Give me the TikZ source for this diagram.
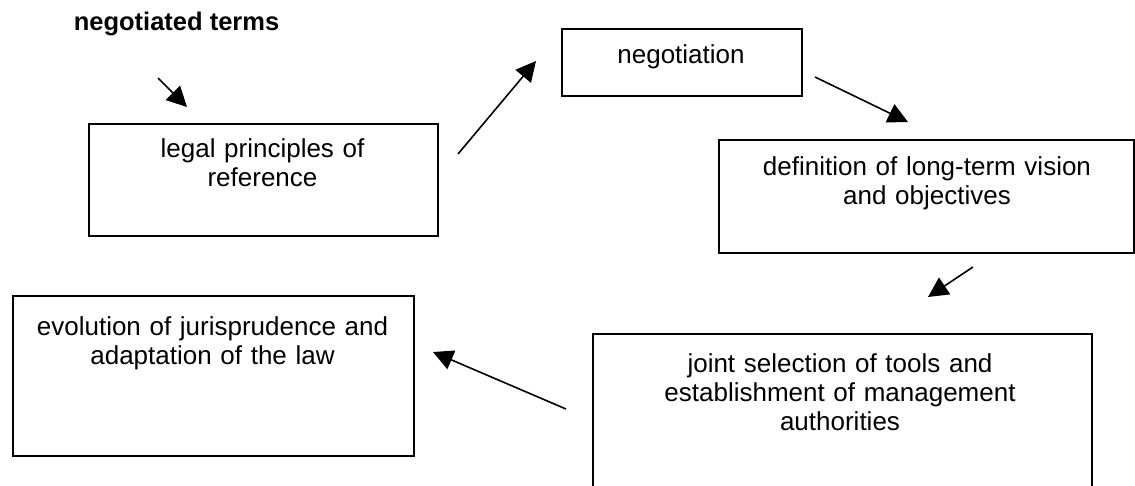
\documentclass[tikz,border=0pt]{standalone}
\usepackage{fontspec}
\setmainfont{Liberation Sans}
\usetikzlibrary{arrows.meta}
\begin{document}
\begin{tikzpicture}[x=1pt,y=-1pt,
  box/.style={draw, line width=1.8pt, inner sep=0pt, anchor=north west},
  txt/.style={font=\fontsize{26}{29}\selectfont, align=center, inner sep=0pt, anchor=base},
  arr/.style={line width=1.6pt, -{Triangle[length=20pt,width=20pt]}}]
\clip (0,0) rectangle (1135,485);
\fill[white] (0,0) rectangle (1135,485);
% boxes
\node[box, minimum width=349pt, minimum height=112pt] (legal) at (88,123) {};
\node[box, minimum width=240pt, minimum height=67pt] (nego) at (561,28) {};
\node[box, minimum width=415pt, minimum height=113pt] (defn) at (718,139) {};
\node[box, minimum width=401pt, minimum height=160pt] (evol) at (12,295) {};
\node[box, minimum width=499pt, minimum height=200pt] (joint) at (592,333) {};
% texts
\node[txt, font=\bfseries\fontsize{25.5}{29}\selectfont] (terms) at (176.5,30) {negotiated terms};
\node[txt, text width=330pt] (legaltxt) at (262.5,157) {legal principles of\\reference};
\node[txt, text width=230pt] (negotxt) at (681,63) {negotiation};
\node[txt, text width=400pt] (defntxt) at (927,175) {definition of long-term vision\\and objectives};
\node[txt, text width=390pt] (evoltxt) at (212.5,335) {evolution of jurisprudence and\\adaptation of the law};
\node[txt, text width=480pt] (jointtxt) at (840,372) {joint selection of tools and\\establishment of management\\authorities};
% connector ends
\coordinate (a1s) at (158,78);  \coordinate (a1e) at (187,107);
\coordinate (a2s) at (458,154); \coordinate (a2e) at (536,61);
\coordinate (a3s) at (815,77);  \coordinate (a3e) at (908,122);
\coordinate (a4s) at (973,267); \coordinate (a4e) at (928,297);
\coordinate (a5s) at (566,409); \coordinate (a5e) at (433,352);
\draw[arr] (a1s) -- (a1e);
\draw[arr] (a2s) -- (a2e);
\draw[arr] (a3s) -- (a3e);
\draw[arr] (a4s) -- (a4e);
\draw[arr] (a5s) -- (a5e);
\end{tikzpicture}
\end{document}
